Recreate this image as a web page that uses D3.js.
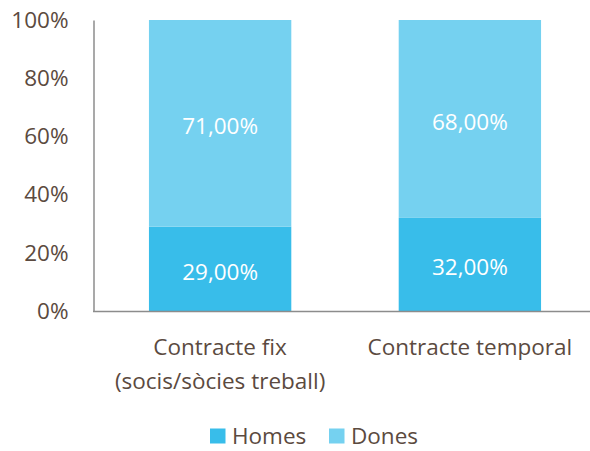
<!DOCTYPE html>
<html>
<head>
<meta charset="utf-8">
<script src="https://cdn.jsdelivr.net/npm/d3@7"></script>
<style>
  body { margin: 0; background: #fff; }
  text { font-family: "Open Sans", sans-serif; }
</style>
</head>
<body>
<script>
// data
const categories = ['Contracte fix\n(socis/sòcies treball)', 'Contracte temporal']
const homes = [0.29, 0.32]
const dones = [0.71, 0.68]
const series = ['Homes', 'Dones']
const yTicks = [0, 0.2, 0.4, 0.6, 0.8, 1]

const w = 590
const h = 451
const colors = {Homes: '#38bdea', Dones: '#75d1f0'}
const textColor = '#5b4a40'

const svg = d3.select('body')
    .append('svg')
    .attr('width', w)
    .attr('height', h)

// scales
const x = d3.scaleBand()
    .domain(categories)
    .range([94, 596])
    .paddingInner(0.43)
    .paddingOuter(0.22)
const y = d3.scaleLinear().domain([0, 1]).range([311, 20])

// stacked data
const rows = categories.map((c, i) => ({cat: c, Homes: homes[i], Dones: dones[i]}))
const stacked = d3.stack().keys(series)(rows)

// bars
svg.append('g').selectAll('g')
    .data(stacked)
    .enter()
    .append('g')
    .style('fill', d => colors[d.key])
    .selectAll('rect')
    .data(d => d)
    .enter()
    .append('rect')
    .attr('x', d => x(d.data.cat))
    .attr('y', d => y(d[1]))
    .attr('width', x.bandwidth())
    .attr('height', d => y(d[0]) - y(d[1]))

// value labels
const fmt = v => d3.format('.2f')(v * 100).replace('.', ',') + '%'
stacked.forEach(s => {
    svg.append('g').selectAll('text')
        .data(s)
        .enter()
        .append('text')
        .attr('x', d => x(d.data.cat) + x.bandwidth() / 2)
        .attr('y', d => (y(d[0]) + y(d[1])) / 2 + 3)
        .attr('dy', '0.35em')
        .attr('text-anchor', 'middle')
        .style('fill', '#fff')
        .style('font-size', '22.5px')
        .text(d => fmt(d[1] - d[0]))
})

// y axis
const yAxis = svg.append('g')
    .attr('transform', 'translate(93.5,0)')
    .call(d3.axisLeft(y).tickValues(yTicks).tickSize(0).tickPadding(25).tickFormat(d3.format('.0%')))
yAxis.select('.domain').attr('stroke', '#8c8c8c').attr('stroke-width', 1.5)
yAxis.selectAll('text').style('fill', textColor).style('font-size', '22.5px').attr('font-family', null)

// baseline
svg.append('line')
    .attr('x1', 93).attr('x2', w)
    .attr('y1', y(0) + 0.5).attr('y2', y(0) + 0.5)
    .attr('stroke', '#8c8c8c').attr('stroke-width', 1.5)

// category labels
categories.forEach(c => {
    const t = svg.append('text')
        .attr('x', x(c) + x.bandwidth() / 2)
        .attr('y', 355)
        .attr('text-anchor', 'middle')
        .style('fill', textColor)
        .style('font-size', '22.5px')
    c.split('\n').forEach((line, i) => {
        t.append('tspan')
            .attr('x', x(c) + x.bandwidth() / 2)
            .attr('dy', i === 0 ? 0 : 34)
            .text(line)
    })
})

// legend
const legend = svg.append('g')
    .attr('transform', 'translate(210,436)')
    .selectAll('g')
    .data(series)
    .enter()
    .append('g')
    .attr('transform', (d, i) => 'translate(' + (i * 119) + ',0)')
legend.append('rect')
    .attr('x', 0).attr('y', -7.5)
    .attr('width', 15.5).attr('height', 15)
    .style('fill', d => colors[d])
legend.append('text')
    .attr('x', 22)
    .attr('dy', '0.35em')
    .style('fill', textColor)
    .style('font-size', '22.5px')
    .text(d => d)
</script>
</body>
</html>
